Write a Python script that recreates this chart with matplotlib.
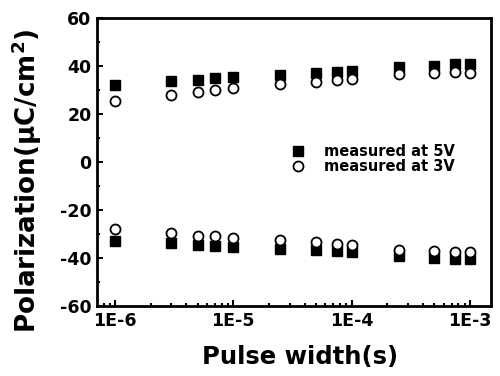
import numpy as np
import matplotlib
matplotlib.use('agg')
import matplotlib.pyplot as plt
from matplotlib.ticker import FixedLocator, LogLocator, NullFormatter, MultipleLocator

pulse = [1e-6, 3e-6, 5e-6, 7e-6, 1e-5, 2.5e-5, 5e-5, 7.5e-5, 1e-4, 2.5e-4, 5e-4, 7.5e-4, 1e-3]
p5_pos = [32.2, 33.6, 34.3, 35.0, 35.3, 36.2, 37.0, 37.7, 37.9, 39.6, 40.0, 41.0, 41.0]
p5_neg = [-32.8, -33.8, -34.4, -35.0, -35.2, -36.2, -36.8, -37.1, -37.3, -39.1, -39.9, -40.4, -40.4]
p3_pos = [25.4, 28.0, 29.3, 30.2, 31.0, 32.5, 33.5, 34.0, 34.6, 36.5, 37.2, 37.4, 37.2]
p3_neg = [-28.1, -29.6, -30.6, -31.0, -31.6, -32.4, -33.5, -34.0, -34.6, -36.5, -37.2, -37.3, -37.4]
xticks = [1e-6, 1e-5, 1e-4, 1e-3]
xticklabels = ['1E-6', '1E-5', '1E-4', '1E-3']

plt.rcParams['font.family'] = ['DejaVu Sans']
plt.rcParams['font.weight'] = 'bold'
plt.rcParams['axes.unicode_minus'] = False
plt.rcParams['mathtext.fontset'] = 'dejavusans'
plt.rcParams['mathtext.default'] = 'bf'

fig = plt.figure(figsize=(5, 3.76), dpi=100)
ax = fig.add_axes([0.194, 0.186, 0.788, 0.766])

sq = dict(marker='s', ls='none', ms=7.4, color='black')
ci = dict(marker='o', ls='none', ms=7.2, mfc='white', mec='black', mew=1.3)
ax.plot(pulse, p5_pos, label='measured at 5V', **sq)
ax.plot(pulse, p5_neg, **sq)
ax.plot(pulse, p3_pos, label='measured at 3V', **ci)
ax.plot(pulse, p3_neg, **ci)

ax.set_xscale('log')
ax.set_xlim(10**-6.152, 10**-2.822)
ax.set_ylim(-60, 60)
ax.xaxis.set_major_locator(FixedLocator(xticks))
ax.set_xticklabels(xticklabels)
ax.xaxis.set_minor_locator(LogLocator(base=10, subs=np.arange(2, 10)))
ax.xaxis.set_minor_formatter(NullFormatter())
ax.yaxis.set_major_locator(MultipleLocator(20))
ax.yaxis.set_minor_locator(MultipleLocator(10))

ax.tick_params(which='both', direction='in', top=False, right=False, width=1.5)
ax.tick_params(which='major', length=4, labelsize=12.5, pad=4)
ax.tick_params(which='minor', length=2.5)
for s in ax.spines.values():
    s.set_linewidth(2)

ax.set_xlabel('Pulse width(s)', fontsize=17.5, fontweight='bold')
ax.set_ylabel(r'Polarization(μC/cm$^2$)', fontsize=18.8, fontweight='bold')
ax.xaxis.set_label_coords(0.515, -0.135)
ax.yaxis.set_label_coords(-0.135, 0.435)

ax.legend(loc='center left', bbox_to_anchor=(0.455, 0.51), frameon=False, fontsize=10.5,
          handletextpad=1.2, labelspacing=0.0, handlelength=1.2)

fig.savefig('out.png')
